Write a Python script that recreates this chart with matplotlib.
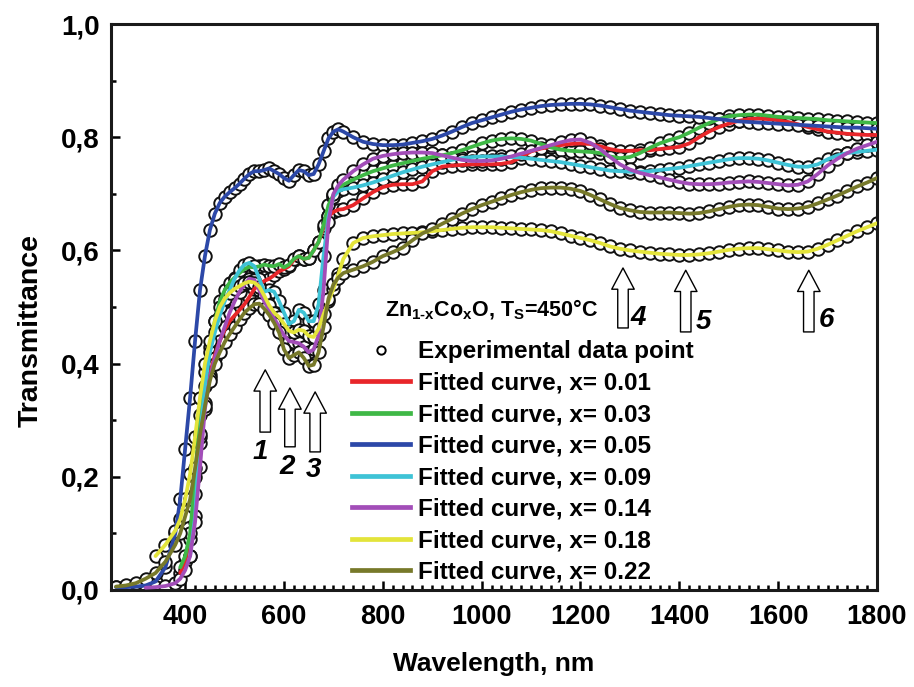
import numpy as np
import matplotlib
matplotlib.use("Agg")
import matplotlib.pyplot as plt
from matplotlib.lines import Line2D

plt.rcParams['font.family'] = ['Liberation Sans', 'DejaVu Sans']
plt.rcParams['mathtext.fontset'] = 'custom'
plt.rcParams['mathtext.rm'] = 'Liberation Sans:bold'
plt.rcParams['mathtext.default'] = 'rm'

# wavelength grid (nm)
WL = list(range(260, 381, 20)) + list(range(390, 721, 10)) + list(range(740, 1801, 20))
nan = np.nan

# Transmittance, x = 0.01 (red)
T_001 = ([nan, nan, nan, nan, nan, nan, nan] +
         [0.03, 0.05, 0.09, 0.17, 0.26, 0.33, 0.38, 0.415, 0.44, 0.46,
          0.475, 0.485, 0.495, 0.505, 0.518, 0.532, 0.54, 0.546, 0.55, 0.556,
          0.563, 0.567, 0.572, 0.583, 0.59, 0.585, 0.587, 0.60, 0.615, 0.64,
          0.66, 0.668, 0.672, 0.673] +
         [0.68, 0.692, 0.703, 0.712, 0.716, 0.717, 0.717, 0.722, 0.74, 0.748,
          0.75, 0.751, 0.752, 0.752, 0.752, 0.753, 0.756, 0.765, 0.775, 0.78,
          0.783, 0.786, 0.788, 0.789, 0.788, 0.784, 0.779, 0.776, 0.776, 0.777,
          0.777, 0.779, 0.781, 0.783, 0.789, 0.80, 0.81, 0.818, 0.824, 0.829,
          0.832, 0.833, 0.832, 0.83, 0.827, 0.823, 0.818, 0.814, 0.81, 0.808,
          0.806, 0.805, 0.804, 0.804])

# x = 0.03 (green)
T_003 = ([nan, nan, nan, nan, nan, nan, nan] +
         [0.04, 0.06, 0.10, 0.20, 0.31, 0.385, 0.43, 0.475, 0.51, 0.53,
          0.543, 0.552, 0.56, 0.567, 0.571, 0.57, 0.572, 0.575, 0.573, 0.572,
          0.576, 0.57, 0.575, 0.585, 0.59, 0.585, 0.587, 0.60, 0.615, 0.645,
          0.68, 0.698, 0.71, 0.716] +
         [0.725, 0.733, 0.74, 0.745, 0.75, 0.754, 0.758, 0.762, 0.765, 0.768,
          0.772, 0.777, 0.783, 0.789, 0.794, 0.797, 0.798, 0.797, 0.794, 0.788,
          0.782, 0.778, 0.776, 0.775, 0.774, 0.772, 0.766, 0.763, 0.765, 0.772,
          0.781, 0.789, 0.795, 0.80, 0.808, 0.817, 0.825, 0.832, 0.837, 0.839,
          0.84, 0.84, 0.838, 0.836, 0.835, 0.834, 0.833, 0.832, 0.83, 0.829,
          0.828, 0.827, 0.826, 0.825])

# x = 0.05 (blue)
T_005 = ([0.005, 0.005, 0.006, 0.008, 0.015, 0.04, 0.10] +
         [0.16, 0.25, 0.34, 0.44, 0.53, 0.59, 0.636, 0.665, 0.684, 0.695,
          0.703, 0.71, 0.718, 0.727, 0.735, 0.74, 0.74, 0.742, 0.745, 0.74,
          0.735, 0.728, 0.723, 0.733, 0.742, 0.74, 0.733, 0.735, 0.752, 0.775,
          0.798, 0.81, 0.814, 0.81] +
         [0.80, 0.792, 0.788, 0.786, 0.786, 0.787, 0.79, 0.793, 0.797, 0.803,
          0.81, 0.818, 0.825, 0.83, 0.835, 0.84, 0.845, 0.849, 0.852, 0.855,
          0.857, 0.858, 0.859, 0.859, 0.858, 0.856, 0.853, 0.85, 0.847, 0.845,
          0.843, 0.841, 0.839, 0.838, 0.837, 0.836, 0.834, 0.832, 0.83, 0.828,
          0.827, 0.826, 0.825, 0.824, 0.823, 0.822, 0.821, 0.82, 0.819, 0.818,
          0.817, 0.817, 0.816, 0.815])

# x = 0.09 (cyan)
T_009 = ([nan, nan, nan, nan, nan, nan, nan] +
         [nan, nan, 0.06, 0.13, 0.27, 0.36, 0.42, 0.455, 0.485, 0.51,
          0.53, 0.55, 0.565, 0.575, 0.578, 0.572, 0.55, 0.527, 0.53, 0.527,
          0.51, 0.49, 0.47, 0.475, 0.495, 0.49, 0.475, 0.475, 0.505, 0.59,
          0.66, 0.695, 0.705, 0.708] +
         [0.711, 0.715, 0.72, 0.726, 0.732, 0.738, 0.743, 0.748, 0.752, 0.756,
          0.76, 0.763, 0.765, 0.766, 0.766, 0.766, 0.765, 0.764, 0.762, 0.76,
          0.758, 0.756, 0.753, 0.75, 0.747, 0.744, 0.741, 0.74, 0.739, 0.739,
          0.74, 0.742, 0.744, 0.746, 0.749, 0.752, 0.755, 0.758, 0.761, 0.763,
          0.763, 0.762, 0.759, 0.755, 0.751, 0.748, 0.748, 0.752, 0.761, 0.768,
          0.772, 0.774, 0.776, 0.778])

# x = 0.14 (magenta)
T_014 = ([nan, nan, nan, 0.004, 0.005, 0.007, 0.012] +
         [0.02, 0.035, 0.06, 0.12, 0.217, 0.32, 0.375, 0.41, 0.44, 0.465,
          0.49, 0.51, 0.527, 0.54, 0.55, 0.548, 0.53, 0.51, 0.495, 0.48,
          0.465, 0.45, 0.44, 0.438, 0.436, 0.43, 0.42, 0.425, 0.45, 0.53,
          0.65, 0.70, 0.715, 0.725] +
         [0.74, 0.752, 0.762, 0.767, 0.77, 0.772, 0.773, 0.773, 0.772, 0.768,
          0.764, 0.76, 0.758, 0.758, 0.759, 0.762, 0.766, 0.771, 0.776, 0.781,
          0.786, 0.791, 0.795, 0.796, 0.79, 0.779, 0.765, 0.752, 0.743, 0.737,
          0.733, 0.729, 0.725, 0.721, 0.718, 0.717, 0.717, 0.718, 0.72, 0.721,
          0.722, 0.721, 0.719, 0.717, 0.715, 0.716, 0.722, 0.735, 0.75, 0.762,
          0.772, 0.78, 0.786, 0.792])

# x = 0.18 (yellow)
T_018 = ([nan, nan, nan, nan, 0.06, 0.08, 0.105] +
         [0.125, 0.16, 0.205, 0.27, 0.34, 0.40, 0.44, 0.475, 0.50, 0.515,
          0.525, 0.532, 0.537, 0.542, 0.545, 0.543, 0.536, 0.52, 0.503, 0.49,
          0.482, 0.47, 0.458, 0.455, 0.46, 0.458, 0.449, 0.447, 0.462, 0.487,
          0.51, 0.532, 0.558, 0.585] +
         [0.613, 0.622, 0.625, 0.627, 0.629, 0.63, 0.631, 0.632, 0.634, 0.636,
          0.638, 0.64, 0.641, 0.641, 0.641, 0.64, 0.639, 0.638, 0.637, 0.636,
          0.634, 0.63, 0.626, 0.622, 0.618, 0.613, 0.607, 0.603, 0.60, 0.598,
          0.596, 0.594, 0.593, 0.592, 0.592, 0.593, 0.595, 0.598, 0.601, 0.603,
          0.604, 0.604, 0.602, 0.60, 0.598, 0.597, 0.598, 0.603, 0.61, 0.618,
          0.626, 0.634, 0.641, 0.648])

# x = 0.22 (olive)
T_022 = ([0.006, 0.008, 0.012, 0.02, 0.03, 0.05, 0.08] +
         [0.10, 0.13, 0.16, 0.215, 0.275, 0.325, 0.37, 0.40, 0.42, 0.438,
          0.452, 0.465, 0.478, 0.49, 0.498, 0.505, 0.506, 0.497, 0.486, 0.472,
          0.455, 0.425, 0.41, 0.415, 0.42, 0.41, 0.396, 0.398, 0.42, 0.465,
          0.515, 0.54, 0.552, 0.56] +
         [0.566, 0.572, 0.58, 0.59, 0.597, 0.605, 0.618, 0.63, 0.638, 0.647,
          0.656, 0.665, 0.673, 0.68, 0.686, 0.692, 0.698, 0.703, 0.707, 0.71,
          0.711, 0.711, 0.709, 0.705, 0.698, 0.69, 0.682, 0.675, 0.671, 0.668,
          0.667, 0.667, 0.667, 0.666, 0.665, 0.666, 0.669, 0.673, 0.677, 0.68,
          0.681, 0.68, 0.677, 0.674, 0.673, 0.674, 0.677, 0.683, 0.69, 0.697,
          0.705, 0.713, 0.72, 0.728])

labels = ['0.01', '0.03', '0.05', '0.09', '0.14', '0.18', '0.22']
series = [T_001, T_003, T_005, T_009, T_014, T_018, T_022]
colors = ['#e8262a', '#3fb846', '#2c48a8', '#3ec3d6', '#a24db8', '#e3e43a', '#77792a']

xticks = [400, 600, 800, 1000, 1200, 1400, 1600, 1800]
yticks = [0.0, 0.2, 0.4, 0.6, 0.8, 1.0]
ytick_labels = ['0,0', '0,2', '0,4', '0,6', '0,8', '1,0']

# arrow annotations: (label, x, tip_y, base_y, label_x, label_y)
arrows = [('1', 562, 0.389, 0.279, 551, 0.244),
          ('2', 612, 0.357, 0.253, 606, 0.217),
          ('3', 663, 0.350, 0.244, 659, 0.212),
          ('4', 1286, 0.569, 0.463, 1316, 0.480),
          ('5', 1413, 0.565, 0.456, 1448, 0.473),
          ('6', 1662, 0.565, 0.456, 1697, 0.477)]

fig = plt.figure(figsize=(9.14, 6.87), dpi=100)
ax = fig.add_axes([0.1215, 0.1412, 0.838, 0.8238])

wl = np.array(WL, dtype=float)
for s, c in zip(series, colors):
    assert len(s) == len(WL)
    y = np.array(s, dtype=float)
    ax.plot(wl, y, linestyle='none', marker='o', markersize=9, markerfacecolor='white',
            markeredgecolor='#111111', markeredgewidth=1.4, zorder=2)
for s, c in zip(series, colors):
    y = np.array(s, dtype=float)
    ax.plot(wl, y, color=c, lw=2.7, zorder=3, solid_capstyle='round')

ax.set_xlim(250, 1800)
ax.set_ylim(0, 1.0)
ax.set_xticks(xticks)
ax.set_xticks(np.arange(260, 1800, 20), minor=True)
ax.set_yticks(yticks)
ax.set_yticklabels(ytick_labels)
ax.set_yticks(np.arange(0.1, 1.0, 0.2), minor=True)
ax.tick_params(axis='both', which='both', direction='in', top=False, right=False, width=1.8)
ax.tick_params(axis='both', which='major', length=6.5)
ax.tick_params(axis='both', which='minor', length=3.5)
ax.tick_params(axis='x', which='major', pad=10)
ax.tick_params(axis='y', which='major', pad=8)
for lab in ax.get_xticklabels():
    lab.set_fontsize(19.5)
    lab.set_fontweight('bold')
for lab in ax.get_yticklabels():
    lab.set_fontsize(20)
    lab.set_fontweight('bold')
for sp in ax.spines.values():
    sp.set_linewidth(2.2)
    sp.set_color('#1a1a1a')

ax.set_xlabel('Wavelength, nm', fontsize=19, fontweight='bold', labelpad=16)
ax.set_ylabel('Transmittance', fontsize=20.5, fontweight='bold')
ax.yaxis.set_label_coords(-0.088, 0.458)

# arrows
for lab, x, ty, by, lx, ly in arrows:
    ax.annotate('', xy=(x, ty), xytext=(x, by),
                arrowprops=dict(arrowstyle='simple,head_length=0.85,head_width=0.9,tail_width=0.42',
                                mutation_scale=18,
                                fc='white', ec='black', lw=1.0, shrinkA=0, shrinkB=0), zorder=4)
    ax.text(lx, ly, lab, fontsize=20, fontweight='bold', fontstyle='italic',
            ha='center', va='center', zorder=4)

ax.text(0.358, 0.495, r'Zn$_{1\text{-}x}$Co$_{x}$O, T$_{S}$=450°C', transform=ax.transAxes,
        fontsize=15.5, fontweight='bold', ha='left', va='center')

handles = [Line2D([], [], linestyle='none', marker='o', markersize=6, markerfacecolor='white',
                  markeredgecolor='black', markeredgewidth=1.4)]
names = ['Experimental data point']
for c, l in zip(colors, labels):
    handles.append(Line2D([], [], color=c, lw=3.4))
    names.append('Fitted curve, x= ' + l)
leg = ax.legend(handles, names, loc='upper left', bbox_to_anchor=(0.3146, 0.4417),
                frameon=False, prop={'weight': 'bold', 'size': 17.5},
                handlelength=2.4, handletextpad=0.33, labelspacing=0.35,
                borderpad=0, borderaxespad=0)

fig.savefig('out.png', dpi=100)
